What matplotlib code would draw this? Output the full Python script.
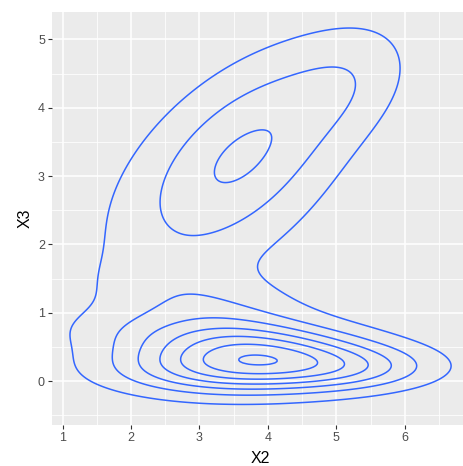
import numpy as np
import matplotlib
matplotlib.use('Agg')
import matplotlib.pyplot as plt

# density of X2 / X3 described as a sum of gaussian bumps
comp_x      = [3.238, 5.256, 3.620, 3.528, 3.796, 3.244, 5.262]
comp_y      = [1.772, 4.417, 3.300, 0.185, 0.520, 1.046, 0.153]
comp_sd_maj = [2.743, 0.704, 1.363, 1.138, 1.379, 0.986, 0.853]
comp_sd_min = [2.653, 0.486, 0.704, 0.259, 0.265, 0.361, 0.219]
comp_angle  = [-0.004, 0.636, 0.736, 0.000, -0.077, -0.170, 0.014]
comp_weight = [0.4868, 0.0378, 0.3250, 0.1660, 0.1477, 0.0550, 0.0342]

levels = [0.02, 0.04, 0.06, 0.08, 0.10, 0.12, 0.14]
xticks = [1, 2, 3, 4, 5, 6]
yticks = [0, 1, 2, 3, 4, 5]
xlim = (0.844, 6.925)
ylim = (-0.64, 5.40)


def density(x, y):
    z = np.zeros_like(x)
    for mx, my, s1, s2, th, w in zip(comp_x, comp_y, comp_sd_maj, comp_sd_min,
                                     comp_angle, comp_weight):
        dx, dy = x - mx, y - my
        u = np.cos(th) * dx + np.sin(th) * dy
        v = -np.sin(th) * dx + np.cos(th) * dy
        z += w / (2 * np.pi * s1 * s2) * np.exp(-0.5 * ((u / s1) ** 2 + (v / s2) ** 2))
    return z


gx, gy = np.meshgrid(np.linspace(xlim[0], xlim[1], 300),
                     np.linspace(ylim[0], ylim[1], 300))
gz = density(gx, gy)

plt.rcParams['font.family'] = ['Liberation Sans', 'DejaVu Sans']

fig = plt.figure(figsize=(4.63, 4.66), dpi=100)
# panel runs a little past the right edge, as in the original export
ax = fig.add_axes([52 / 463, 41 / 466, 416 / 463, 413 / 466])
ax.set_facecolor('#EBEBEB')

ax.contour(gx, gy, gz, levels=levels, colors='#3366FF', linewidths=1.1)

ax.set_xlim(*xlim)
ax.set_ylim(*ylim)
ax.set_xticks(xticks)
ax.set_yticks(yticks)
ax.set_xticks([1.5, 2.5, 3.5, 4.5, 5.5, 6.5], minor=True)
ax.set_yticks([-0.5, 0.5, 1.5, 2.5, 3.5, 4.5], minor=True)
ax.grid(which='major', color='white', linewidth=1.1)
ax.grid(which='minor', color='white', linewidth=0.55)
ax.set_axisbelow(True)
for sp in ax.spines.values():
    sp.set_visible(False)
ax.tick_params(which='major', length=2.9, width=0.8, color='#333333',
               labelcolor='#4D4D4D', labelsize=9, pad=2.2)
ax.tick_params(which='minor', length=0)

ax.set_xlabel('X2', fontsize=11.5, color='black', labelpad=5)
ax.set_ylabel('X3', fontsize=11.5, color='black', labelpad=4)

fig.savefig('out.png', dpi=100)
